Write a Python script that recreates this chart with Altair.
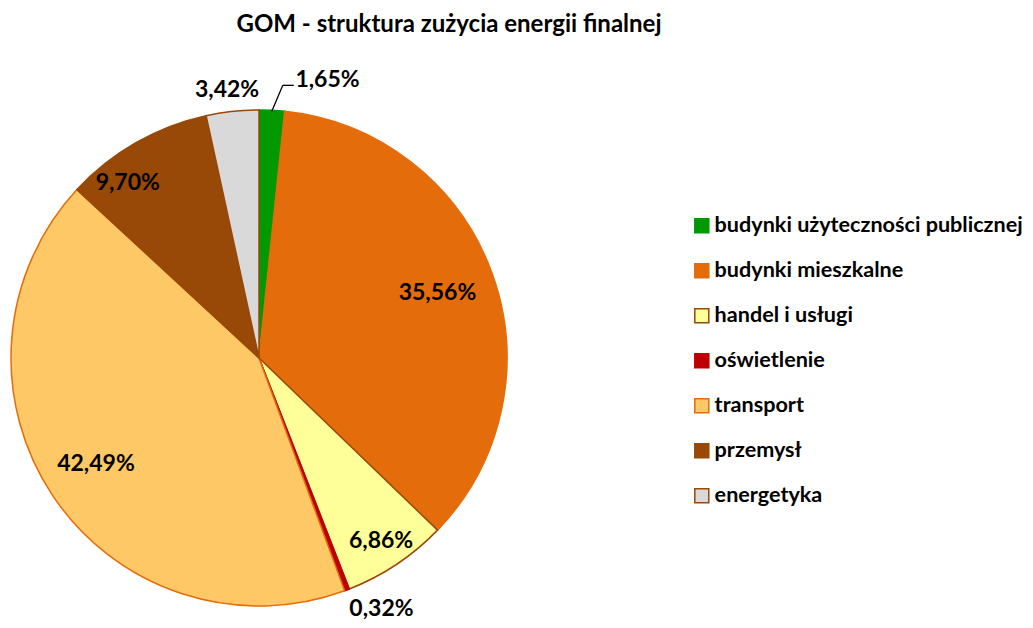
import altair as alt
import pandas as pd
import math

# ---- data ----
categories = ["budynki użyteczności publicznej", "budynki mieszkalne", "handel i usługi",
              "oświetlenie", "transport", "przemysł", "energetyka"]
shares = [1.65, 35.56, 6.86, 0.32, 42.49, 9.70, 3.42]
labels = ["1,65%", "35,56%", "6,86%", "0,32%", "42,49%", "9,70%", "3,42%"]
title_text = "GOM - struktura zużycia energii finalnej"

# ---- styles ----
fills = ["#009900", "#E46C0A", "#FFFF99", "#C00000", "#FFC866", "#984807", "#D9D9D9"]
strokes = ["#009900", "#E46C0A", "#984807", "#C00000", "#E46C0A", "#984807", "#984807"]
FONT = "Lato"
PAD_TOP = 6
CX, CY, R = 251, 350 - PAD_TOP, 248

# table built from the arrays
ends, acc = [], 0.0
for s in shares:
    acc += s
    ends.append(acc)
starts = [e - s for e, s in zip(ends, shares)]
mids = [a + s / 2 for a, s in zip(starts, shares)]
df = pd.DataFrame({"cat": categories, "share": shares, "label": labels,
                   "start": starts, "end": ends, "mid": mids})

theta_scale = alt.Scale(domain=[0, 100], range=[0, 2 * math.pi])
color_scale = alt.Scale(domain=categories, range=fills)
stroke_scale = alt.Scale(domain=categories, range=strokes)

base = alt.Chart(df)

arcs = base.mark_arc(outerRadius=R, strokeWidth=1.5).encode(
    theta=alt.Theta("start:Q", scale=theta_scale),
    theta2="end:Q",
    fill=alt.Fill("cat:N", scale=color_scale, sort=categories, title=None),
    stroke=alt.Stroke("cat:N", scale=stroke_scale, sort=categories, title=None),
    x=alt.value(CX), y=alt.value(CY),
)

# label placement (radius, dx, dy) per label
placement = {
    "1,65%": (280, 54, 2),
    "35,56%": (190, 0, 0),
    "6,86%": (220, 0, 0),
    "0,32%": (272, 26, -3),
    "42,49%": (196, 0, -3),
    "9,70%": (220, -22, 16),
    "3,42%": (270, -3, 0),
}
text_layers = []
for lab, (rad, dx, dy) in placement.items():
    text_layers.append(
        base.transform_filter(alt.datum.label == lab).mark_text(
            radius=rad, dx=dx, dy=dy, font=FONT, fontSize=23, fontWeight="bold",
            color="black", align="center", baseline="middle"
        ).encode(
            theta=alt.Theta("mid:Q", scale=theta_scale),
            text="label:N",
            x=alt.value(CX), y=alt.value(CY),
        )
    )

# leader line for the smallest top slice
g_ang = math.radians(mids[0] / 100 * 360)
p0 = (CX + (R - 1) * math.sin(g_ang), CY - (R - 1) * math.cos(g_ang))
p1 = (p0[0] + 11, p0[1] - 26)
p2 = (p1[0] + 11, p1[1])
one = alt.Data(values=[{"k": 1}])
lead1 = alt.Chart(one).mark_rule(color="black", strokeWidth=1.3).encode(
    x=alt.value(p0[0]), y=alt.value(p0[1]), x2=alt.value(p1[0]), y2=alt.value(p1[1]))
lead2 = alt.Chart(one).mark_rule(color="black", strokeWidth=1.3).encode(
    x=alt.value(p1[0]), y=alt.value(p1[1]), x2=alt.value(p2[0]), y2=alt.value(p2[1]))

title = alt.Chart(alt.Data(values=[{"t": title_text}])).mark_text(
    font=FONT, fontSize=24, fontWeight="bold", color="black",
    align="center", baseline="alphabetic"
).encode(text="t:N", x=alt.value(441), y=alt.value(24 - PAD_TOP))

chart = alt.layer(arcs, *text_layers, lead1, lead2, title).properties(
    width=1017, height=612 - PAD_TOP,
    autosize=alt.AutoSizeParams(type="none"),
    padding={"left": 0, "top": PAD_TOP, "right": 0, "bottom": 0},
).configure_view(stroke=None).configure_legend(
    orient="none", legendX=683, legendY=207 - PAD_TOP,
    symbolType="square", symbolSize=196, symbolStrokeWidth=1.5,
    labelFont=FONT, labelFontSize=21.6, labelFontWeight="bold", labelColor="black",
    labelOffset=2, rowPadding=22, labelLimit=400,
)

chart.save("out.html", embed_options={"renderer": "svg", "actions": False})
